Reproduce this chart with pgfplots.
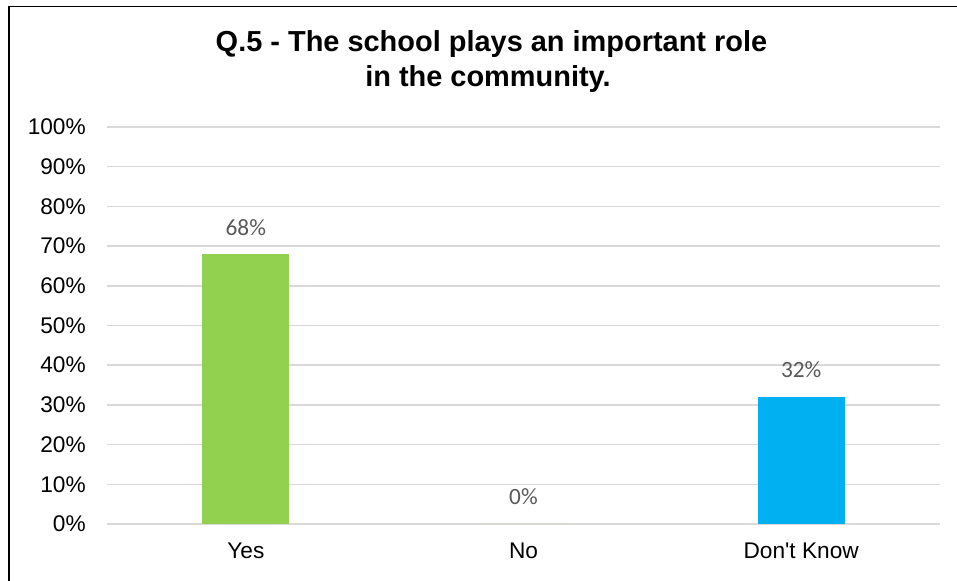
\documentclass[border=0pt]{standalone}
\usepackage{pgfplots}
\pgfplotsset{compat=1.18}
\usepackage{fontspec}
\setmainfont{Liberation Sans}
\newfontfamily\calibri{Carlito}
\definecolor{barGreen}{HTML}{92D050}
\definecolor{barBlue}{HTML}{00B0F0}
\definecolor{gridGray}{HTML}{D9D9D9}
\definecolor{labelGray}{HTML}{595959}
\begin{document}
\begin{tikzpicture}[x=1pt,y=1pt]
\path[use as bounding box] (0,0) rectangle (717.75,435.75);
\draw[line width=1.4pt,black] (6.75,0) -- (6.75,430.9) -- (717.75,430.9);
\node[anchor=base,font=\fontsize{21.7}{26}\selectfont\bfseries] at (368.6,396.75) {Q.5 - The school plays an important role};
\node[anchor=base,font=\fontsize{21.7}{26}\selectfont\bfseries] at (366,370.5) {in the community.};
\begin{axis}[
  at={(80.25pt,42.75pt)}, anchor=south west,
  scale only axis, width=624.75pt, height=297.75pt,
  xmin=-0.5, xmax=2.5, ymin=0, ymax=100,
  xtick={0,1,2}, xticklabels={Yes,No,Don\textquotesingle t Know},
  ytick={0,10,...,100},
  yticklabel={\pgfmathprintnumber{\tick}\%},
  /pgf/number format/assume math mode=true,
  major tick length=0pt,
  axis line style={draw=none},
  ymajorgrids, grid style={gridGray, line width=1.1pt},
  tick label style={font=\fontsize{17}{20}\selectfont, black},
  yticklabel style={anchor=east, inner sep=0pt, xshift=-15.75pt},
  xticklabel style={anchor=base, inner sep=0pt, yshift=-26.25pt},
  ybar, bar width=65.25pt, bar shift=0pt,
  clip=false,
  nodes near coords={\pgfmathprintnumber{\pgfplotspointmeta}\%},
  nodes near coords style={font=\calibri\fontsize{17.5}{20}\selectfont, text=labelGray, anchor=base, inner sep=0pt, yshift=14.25pt},
]
\addplot[fill=barGreen, draw=none] coordinates {(0,68)};
\addplot[fill=barGreen, draw=none] coordinates {(1,0)};
\addplot[fill=barBlue, draw=none] coordinates {(2,32)};
\end{axis}
\end{tikzpicture}
\end{document}
